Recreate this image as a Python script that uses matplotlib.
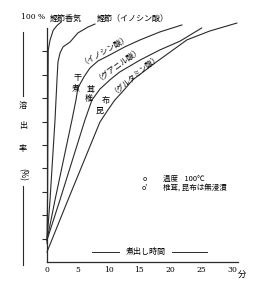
import matplotlib
matplotlib.use('Agg')
import matplotlib.pyplot as plt
from matplotlib.lines import Line2D

plt.rcParams['font.family'] = ['Noto Sans CJK JP', 'DejaVu Sans']

# minutes vs dissolution rate (%)
katsuoKoukiX = [0, 0.1, 0.16, 0.2, 0.5, 1.0, 1.6, 2.3]
katsuoKoukiY = [8, 30, 70, 90.6, 94.9, 99, 101, 102.6]

katsuoX = [0, 0.49, 1.3, 1.62, 1.78, 2.11, 2.59, 3.73, 5.02, 6.65, 7.78]
katsuoY = [9.4, 26.5, 60.7, 77.8, 85.5, 89.3, 91.9, 94.0, 97.9, 100.4, 101.7]

niboshiX = [0, 1.3, 4.05, 4.7, 5.02, 6.0, 6.97, 8.27, 10.2, 12.6, 15.1, 18.3, 21.9]
niboshiY = [9.4, 26.5, 60.7, 69.2, 74.4, 79.1, 82.9, 85.9, 88.5, 91.9, 94.9, 98.3, 101.3]

shiitakeX = [0, 2.1, 6.16, 7.29, 8.59, 10.2, 11.8, 15.1, 18.3, 21.6, 25.1]
shiitakeY = [9.4, 26.5, 60.7, 69.2, 73.9, 77.8, 81.2, 86.3, 90.6, 94.4, 100]

konbuX = [0, 3.4, 8.59, 9.89, 11.0, 12.2, 13.9, 17.5, 22.7, 26.4, 30.8]
konbuY = [4.3, 26.5, 59.8, 65.0, 69.2, 72.6, 77.8, 85.0, 94.9, 98.7, 102.1]

xTicks = [0, 5, 10, 15, 20, 25, 30]
yTicks = [10, 20, 30, 40, 50, 60, 70, 80, 90]

fig = plt.figure(figsize=(2.58, 2.95), dpi=100)
ax = fig.add_axes([47/258, 33/295, 191/258, 245.7/295])
ax.set_xlim(0, 31)
ax.set_ylim(0, 105)

lc = '#2a2a2a'
for xs, ys in [(katsuoKoukiX, katsuoKoukiY), (katsuoX, katsuoY), (niboshiX, niboshiY),
               (shiitakeX, shiitakeY), (konbuX, konbuY)]:
    ax.plot(xs, ys, color=lc, lw=0.8, clip_on=False)

ax.spines['top'].set_visible(False)
ax.spines['right'].set_visible(False)
ax.spines['left'].set_bounds(0, 100)
ax.spines['left'].set_linewidth(0.9)
ax.spines['bottom'].set_linewidth(0.9)
ax.spines['left'].set_color(lc)
ax.spines['bottom'].set_color(lc)

ax.set_yticks(yTicks)
ax.set_yticklabels([])
ax.tick_params(axis='y', direction='out', length=3.5, width=0.8, color=lc)
ax.set_xticks(xTicks)
ax.set_xticklabels([str(t) for t in xTicks], fontsize=5.5, family='DejaVu Serif')
ax.tick_params(axis='x', length=0, pad=3)
ax.text(31.6, -3.4, '分', fontsize=6, ha='center', va='top')

# labels on the curves
fs = 5.8
ax.text(-2.3, 104.7, '100 %', fontsize=5.5, ha='center', va='center', clip_on=False, family='DejaVu Serif')
ax.text(3.0, 103.8, '鰹節香気', fontsize=fs, ha='center', va='center', clip_on=False)
ax.text(13.9, 103.6, '鰹節（イノシン酸）', fontsize=fs, ha='center', va='center', clip_on=False)
ax.text(9.3, 91.0, '（イノシン酸）', fontsize=5.6, ha='center', va='center', rotation=30)
ax.text(11.5, 85.0, '（グアニル酸）', fontsize=5.6, ha='center', va='center', rotation=36)
ax.text(14.2, 81.0, '（グルタミン酸）', fontsize=5.4, ha='center', va='center', rotation=40)
for ch, x, y in [('干', 4.9, 79), ('煮', 4.6, 74.4), ('茸', 7.0, 73.9), ('椎', 6.7, 69.7),
                 ('布', 9.6, 69.2), ('昆', 8.6, 64.6)]:
    ax.text(x, y, ch, fontsize=fs, ha='center', va='center')

ax.text(15.8, 35.6, 'o', fontsize=5, ha='center', va='center')
ax.text(18.8, 35.6, '温度    100℃', fontsize=5.4, ha='left', va='center')
ax.text(15.8, 31.6, "o'", fontsize=5, ha='center', va='center')
ax.text(18.8, 31.6, '椎茸, 昆布は無浸漬', fontsize=5.4, ha='left', va='center')

ax.text(16.0, 4.3, '煮出し時間', fontsize=fs, ha='center', va='center')
ax.plot([7.3, 11.7], [4.3, 4.3], color=lc, lw=0.7)
ax.plot([20.3, 25.9], [4.3, 4.3], color=lc, lw=0.7)

# y label with bracket line on the left
xl = 23/258
for ch, py in [('溶', 105), ('出', 126), ('率', 148)]:
    fig.text(xl, 1 - py/295, ch, fontsize=fs, ha='center', va='center')
fig.text(xl, 1 - 175/295, '(%)', fontsize=fs, ha='center', va='center', rotation=270)
fig.add_artist(Line2D([xl, xl], [1 - 32/295, 1 - 96/295], transform=fig.transFigure, color=lc, lw=0.8))
fig.add_artist(Line2D([xl, xl], [1 - 186/295, 1 - 265/295], transform=fig.transFigure, color=lc, lw=0.8))

fig.savefig('out.png', dpi=100)
